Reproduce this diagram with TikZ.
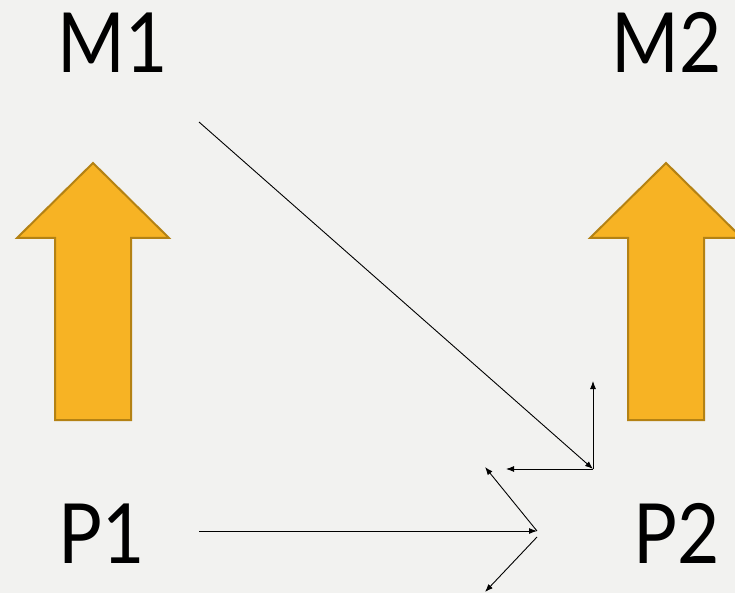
\documentclass[tikz,border=0pt]{standalone}
\usepackage{fontspec}
\setmainfont{Lato}
\newfontfamily\tagfont[FakeStretch=0.88]{Lato}
\usetikzlibrary{arrows.meta}
\definecolor{bgcol}{RGB}{242,242,240}
\definecolor{arrowfill}{RGB}{247,179,36}
\definecolor{arrowline}{RGB}{180,130,20}
\tikzset{
  tag/.style={font=\tagfont\fontsize{83}{90}\selectfont, inner sep=0pt, anchor=base},
  thinarrow/.style={-{Latex[length=8pt,width=6pt]}, line width=0.9pt},
  bigarrow/.style={fill=arrowfill, draw=arrowline, line width=2pt, line join=miter}
}
\begin{document}
\begin{tikzpicture}[x=1pt,y=-1pt]
            \fill[bgcol] (0,0) rectangle (735,593);
            \useasboundingbox (0,0) rectangle (735,593);
            \clip (0,0) rectangle (735,593);
            % big orange arrows
            \foreach \cx in {93,666}
                \filldraw[bigarrow] (\cx,163) -- ++(76,75) -- ++(-38,0) -- ++(0,182) -- ++(-76,0) -- ++(0,-182) -- ++(-38,0) -- cycle;
            \node[tag] (M1) at (113,73) {M1};
            \node[tag] (M2) at (667,73) {M2};
            \node[tag] (P1) at (102,563) {P1};
            \node[tag] (P2) at (677,563) {P2};
            \coordinate (m1out) at (199,122);
            \coordinate (hub) at (593,469);
            \coordinate (up) at (593,381);
            \coordinate (left) at (506,469);
            \coordinate (p1out) at (199,531);
            \coordinate (p2in) at (537,531);
            \coordinate (p2low) at (537,537);
            \coordinate (upleft) at (485,467);
            \coordinate (downleft) at (485,592);
            \draw[thinarrow] (m1out) -- (hub);
            \draw[thinarrow] (hub) -- (up);
            \draw[thinarrow] (hub) -- (left);
            \draw[thinarrow] (p1out) -- (p2in);
            \draw[thinarrow] (p2in) -- (upleft);
            \draw[thinarrow] (p2low) -- (downleft);
        \end{tikzpicture}
\end{document}
